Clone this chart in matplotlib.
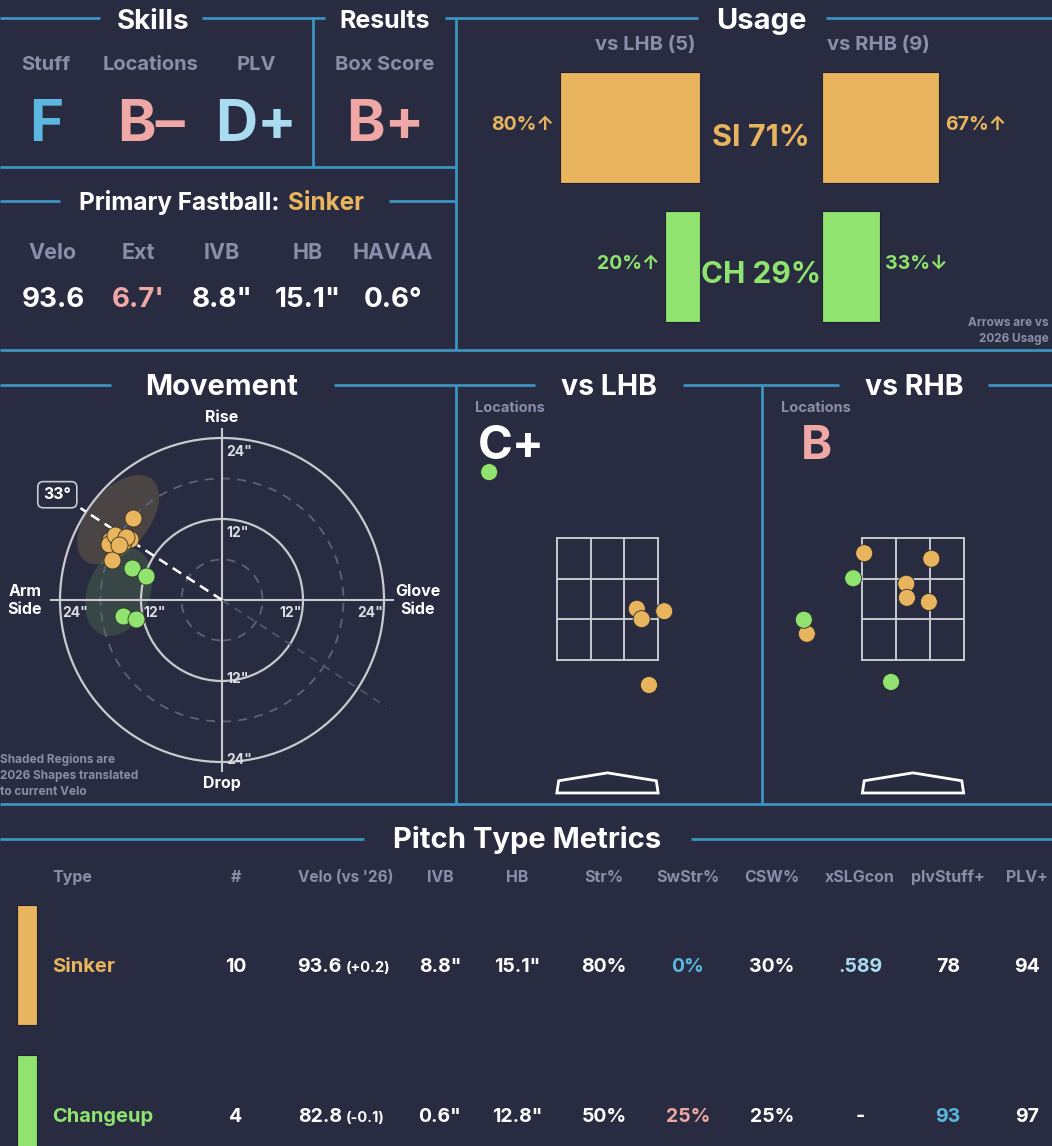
import matplotlib.pyplot as plt
from matplotlib.patches import Ellipse, Circle, Rectangle, Polygon
import numpy as np

FONT = ['Inter', 'DejaVu Sans']
plt.rcParams['font.family'] = FONT
plt.rcParams['font.weight'] = 'bold'

W, H = 1052, 1146
BG = '#292c40'
LINE = '#3b94bf'
ORANGE = '#e8b45e'
GREEN = '#8fe36e'
GREY = '#8a8ea8'
PINK = '#f0a8a6'
BLUE = '#5bb7e0'
LBLUE = '#a9dcf0'
WHITE = '#ffffff'
RING = '#c9c9cf'
pitch_colors = {'SI': ORANGE, 'CH': GREEN}

# ---- data ----
skill_labels = ['Stuff', 'Locations', 'PLV']
skill_grades = ['F', 'B\u2013', 'D+']
skill_colors = [BLUE, PINK, LBLUE]
result_label = 'Box Score'
result_grade = 'B+'

fb_name = 'Sinker'
fb_labels = ['Velo', 'Ext', 'IVB', 'HB', 'HAVAA']
fb_values = ['93.6', "6.7'", '8.8"', '15.1"', '0.6\u00b0']
fb_colors = [WHITE, PINK, WHITE, WHITE, WHITE]

usage_types = ['SI', 'CH']
usage_all = [71, 29]
usage_lhb = [80, 20]
usage_rhb = [67, 33]
arrow_lhb = ['\u2191', '\u2191']
arrow_rhb = ['\u2191', '\u2193']
n_lhb, n_rhb = 5, 9

# movement (inches, arm side negative)
si_hb = [-13.2, -13.7, -16.6, -16.7, -15.4, -14.7, -15.9, -14.2, -16.3, -15.2]
si_ivb = [12.1, 9.1, 8.9, 8.3, 9.1, 8.6, 9.6, 9.4, 6.0, 8.1]
ch_hb = [-13.3, -11.2, -14.6, -12.7]
ch_ivb = [4.8, 3.6, -2.4, -2.8]
arm_angle = 33
# 2026 shapes: center x, center y, width, height, angle
shape_si = [-15.4, 11.9, 15.6, 8.9, 50]
shape_ch = [-15.3, 1.2, 13.6, 9.2, 68]

# locations (feet)
lhb_type = ['CH', 'SI', 'SI', 'SI', 'SI']
lhb_x = [-1.94, 0.48, 0.56, 0.93, 0.68]
lhb_z = [4.58, 2.34, 2.17, 2.30, 1.09]
rhb_type = ['SI', 'SI', 'SI', 'SI', 'SI', 'SI', 'CH', 'CH', 'CH']
rhb_x = [-0.80, 0.30, -0.11, -0.10, 0.26, -1.74, -0.98, -1.79, -0.36]
rhb_z = [3.25, 3.16, 2.75, 2.52, 2.45, 1.93, 2.84, 2.16, 1.14]
loc_grade_lhb, loc_grade_rhb = 'C+', 'B'

# table
table_cols = ['Type', '#', "Velo (vs '26)", 'IVB', 'HB', 'Str%', 'SwStr%',
              'CSW%', 'xSLGcon', 'plvStuff+', 'PLV+']
row_names = ['Sinker', 'Changeup']
row_codes = ['SI', 'CH']
row_n = ['10', '4']
row_velo = ['93.6', '82.8']
row_dvelo = ['(+0.2)', '(-0.1)']
row_ivb = ['8.8"', '0.6"']
row_hb = ['15.1"', '12.8"']
row_str = ['80%', '50%']
row_swstr = ['0%', '25%']
row_csw = ['30%', '25%']
row_xslg = ['.589', '-']
row_stuff = ['78', '93']
row_plv = ['94', '97']
swstr_colors = [BLUE, PINK]
xslg_colors = [LBLUE, WHITE]
stuff_colors = [WHITE, BLUE]

# ---- canvas ----
fig = plt.figure(figsize=(W / 100, H / 100), dpi=100, facecolor=BG)
ax0 = fig.add_axes([0, 0, 1, 1])
ax0.set_xlim(0, W)
ax0.set_ylim(H, 0)
ax0.axis('off')


def px_axes(x0, y0, x1, y1):
    a = fig.add_axes([x0 / W, 1 - y1 / H, (x1 - x0) / W, (y1 - y0) / H])
    a.patch.set_visible(False)
    a.axis('off')
    return a


def txt(x, y, s, size, color=WHITE, ha='center', **kw):
    ax0.text(x, y, s, fontsize=size, color=color, ha=ha, va='baseline',
             fontweight='bold', **kw)


# frame lines
hlines = [(18, 0, 100), (18, 202, 325), (18, 445, 698), (18, 826, 1052),
          (167, 0, 456), (201, 0, 60), (201, 389, 456), (350, 0, 1052),
          (385, 0, 111), (385, 334, 535), (385, 683, 839), (385, 988, 1052),
          (804, 0, 1052), (839, 0, 364), (839, 691, 1052)]
vlines = [(313, 18, 167), (456, 18, 350), (456, 385, 804), (762, 385, 804)]
for y, a, b in hlines:
    ax0.plot([a, b], [y, y], color=LINE, lw=2, solid_capstyle='butt')
for x, a, b in vlines:
    ax0.plot([x, x], [a, b], color=LINE, lw=2, solid_capstyle='butt')

# ---- skills / results ----
txt(153, 29, 'Skills', 20)
txt(385, 28, 'Results', 18)
for cx, lab, g, c in zip([46, 151, 256], skill_labels, skill_grades, skill_colors):
    txt(cx, 70, lab, 14.5, GREY)
    txt(cx, 141, g, 42, c)
txt(385, 70, result_label, 14.5, GREY)
txt(385, 141, result_grade, 42, PINK)

ax0.text(285, 210, 'Primary Fastball: ', fontsize=17.5, color=WHITE,
         ha='right', va='baseline', fontweight='bold')
ax0.text(288, 210, fb_name, fontsize=17.5, color=ORANGE, ha='left',
         va='baseline', fontweight='bold')
for cx, lab, v, c in zip([53, 138, 222, 308, 393], fb_labels, fb_values, fb_colors):
    txt(cx, 259, lab, 15.5, GREY)
    txt(cx, 307, v, 20, c)

# ---- usage ----
txt(761, 29, 'Usage', 21)
txt(645, 50, f'vs LHB ({n_lhb})', 14.5, GREY)
txt(878, 50, f'vs RHB ({n_rhb})', 14.5, GREY)

rows = np.arange(len(usage_types))
ax_ul = px_axes(525, 58, 700, 336)
ax_ul.set_xlim(100, 0)
ax_ul.set_ylim(1.5, -0.5)
ax_ur = px_axes(822, 58, 997, 336)
ax_ur.set_xlim(0, 100)
ax_ur.set_ylim(1.5, -0.5)
cols = [pitch_colors[t] for t in usage_types]
ax_ul.barh(rows, usage_lhb, height=0.8, color=cols, edgecolor='#1d2030', lw=0.8)
ax_ur.barh(rows, usage_rhb, height=0.8, color=cols, edgecolor='#1d2030', lw=0.8)
for i, t in enumerate(usage_types):
    c = pitch_colors[t]
    ax_ul.annotate(f'{usage_lhb[i]}%{arrow_lhb[i]}', (usage_lhb[i], i),
                   xytext=(-4, 2), textcoords='offset points', ha='right',
                   va='center', fontsize=14, color=c, fontweight='bold',
                   family=FONT)
    ax_ur.annotate(f'{usage_rhb[i]}%{arrow_rhb[i]}', (usage_rhb[i], i),
                   xytext=(4, 2), textcoords='offset points', ha='left',
                   va='center', fontsize=14, color=c, fontweight='bold',
                   family=FONT)
txt(761, 146, f'{usage_types[0]} {usage_all[0]}%', 22, pitch_colors['SI'])
txt(761, 283, f'{usage_types[1]} {usage_all[1]}%', 21.5, pitch_colors['CH'])
txt(1049, 326, 'Arrows are vs', 8.5, GREY, ha='right')
txt(1049, 342, '2026 Usage', 8.5, GREY, ha='right')

# ---- movement ----
txt(222, 395, 'Movement', 21)
S = 6.75
axm = px_axes(0, 400, 444, 800)
axm.set_xlim(-222 / S, 222 / S)
axm.set_ylim(-200 / S, 200 / S)
for r, solid in [(6, False), (12, True), (18, False), (24, True)]:
    if solid:
        axm.add_patch(Circle((0, 0), r, fill=False, ec=RING, lw=1.6, zorder=2))
    else:
        axm.add_patch(Circle((0, 0), r, fill=False, ec='#5f6277', lw=1.3,
                             ls=(0, (5, 4)), zorder=2))
axm.plot([-25.3, 25.3], [0, 0], color=RING, lw=1.5, zorder=2)
axm.plot([0, 0], [-25.3, 25.3], color=RING, lw=1.5, zorder=2)
for e, c, a in [(shape_si, ORANGE, 0.18), (shape_ch, GREEN, 0.15)]:
    axm.add_patch(Ellipse((e[0], e[1]), e[2], e[3], angle=e[4], fc=c,
                          alpha=a, ec='none', zorder=1))
ang = np.radians(arm_angle)
axm.plot([0, -25 * np.cos(ang)], [0, 25 * np.sin(ang)], color=WHITE, lw=1.8,
         ls=(0, (4, 2.5)), zorder=3)
axm.plot([0, 29 * np.cos(ang)], [0, -29 * np.sin(ang)], color='#55586c',
         lw=1.2, ls=(0, (5, 4)), zorder=2)
axm.text(-24.4, 15.6, f'{arm_angle}\u00b0', fontsize=11.5, color=WHITE,
         ha='center', va='center', fontweight='bold', zorder=5,
         bbox=dict(boxstyle='round,pad=0.35', fc=BG, ec=RING, lw=1.2))
axm.scatter(si_hb, si_ivb, s=150, c=ORANGE, ec='#3a3020', lw=0.6, zorder=4)
axm.scatter(ch_hb, ch_ivb, s=150, c=GREEN, ec='#2a3a24', lw=0.6, zorder=4)
for r in [12, 24]:
    axm.text(0.6, r - 2.7, f'{r}"', fontsize=10, color='#dcdce2',
             ha='left', va='baseline', zorder=3)
    axm.text(0.6, -r + 1.3, f'{r}"', fontsize=10, color='#dcdce2',
             ha='left', va='top', zorder=3)
    axm.text(-r + 0.4, -2.5, f'{r}"', fontsize=10, color='#dcdce2',
             ha='left', va='baseline', zorder=3)
    axm.text(r - 0.2, -2.5, f'{r}"', fontsize=10, color='#dcdce2',
             ha='right', va='baseline', zorder=3)
axm.text(0, 26.4, 'Rise', fontsize=11.5, color=WHITE, ha='center',
         va='baseline', fontweight='bold')
axm.text(0, -27.8, 'Drop', fontsize=11.5, color=WHITE, ha='center',
         va='baseline', fontweight='bold')
axm.text(-29.2, 0, 'Arm\nSide', fontsize=11.5, color=WHITE, ha='center',
         va='center', fontweight='bold', linespacing=1.25)
axm.text(29.0, 0, 'Glove\nSide', fontsize=11.5, color=WHITE, ha='center',
         va='center', fontweight='bold', linespacing=1.25)
for i, line in enumerate(['Shaded Regions are', '2026 Shapes translated',
                          'to current Velo']):
    txt(0, 763 + 16 * i, line, 8.5, '#8a8ea0', ha='left')

# ---- locations ----
PF = 61.0
zone_x = [-0.83, -0.83 / 3, 0.83 / 3, 0.83]
zone_z = [1.5, 1.5 + 2 / 3, 1.5 + 4 / 3, 3.5]
plate_x = [-0.83, 0.83, 0.80, 0, -0.80]
plate_z = [-0.68, -0.68, -0.48, -0.35, -0.48]
for title, cx, gx, grade, gcol, types, xs, zs in [
        ('vs LHB', 607.5, 478, loc_grade_lhb, WHITE, lhb_type, lhb_x, lhb_z),
        ('vs RHB', 913.0, 817, loc_grade_rhb, PINK, rhb_type, rhb_x, rhb_z)]:
    x0p = cx - 150
    x1p = min(cx + 150, W)
    txt(cx + 1.5, 395, title, 20.5)
    txt(cx - 132, 412, 'Locations', 10.5, GREY, ha='left')
    txt(gx, 459, grade, 34, gcol, ha='left' if grade == 'C+' else 'center')
    axl = px_axes(x0p, 440, x1p, 800)
    axl.set_xlim((x0p - cx) / PF, (x1p - cx) / PF)
    axl.set_ylim(3.5 - (800 - 538) / PF, 3.5 + (538 - 440) / PF)
    for zx in zone_x:
        axl.plot([zx, zx], [1.5, 3.5], color=RING, lw=1.4, zorder=1)
    for zz in zone_z:
        axl.plot([-0.83, 0.83], [zz, zz], color=RING, lw=1.4, zorder=1)
    axl.add_patch(Polygon(list(zip(plate_x, plate_z)), closed=True,
                          fill=False, ec=WHITE, lw=2))
    axl.scatter(xs, zs, s=150, c=[pitch_colors[t] for t in types],
                ec='#2a2d30', lw=0.6, zorder=3)

# ---- table ----
txt(527, 848, 'Pitch Type Metrics', 21)
col_x = [52, 236, 346, 440, 517, 604, 688, 772, 860, 948, 1027]
for i, (cx, lab) in enumerate(zip(col_x, table_cols)):
    size = 11 if i == 2 else 11.5
    txt(cx, 882, lab, size, GREY, ha='left' if i == 0 else 'center')
row_y = [972, 1122]
for i in range(len(row_names)):
    y = row_y[i]
    c = pitch_colors[row_codes[i]]
    ax0.add_patch(Rectangle((17, y - 67), 20, 120, fc=c, ec='#1d2030', lw=0.8))
    txt(52, y, row_names[i], 14.5, c, ha='left')
    txt(col_x[1], y, row_n[i], 14)
    txt(342, y, row_velo[i], 14, ha='right')
    txt(346, y, row_dvelo[i], 10.5, ha='left')
    vals = [row_ivb[i], row_hb[i], row_str[i], row_swstr[i], row_csw[i],
            row_xslg[i], row_stuff[i], row_plv[i]]
    colors = [WHITE, WHITE, WHITE, swstr_colors[i], WHITE, xslg_colors[i],
              stuff_colors[i], WHITE]
    for cx, v, cc in zip(col_x[3:], vals, colors):
        txt(cx, y, v, 14, cc)

fig.savefig('out.png', dpi=100, facecolor=BG)
